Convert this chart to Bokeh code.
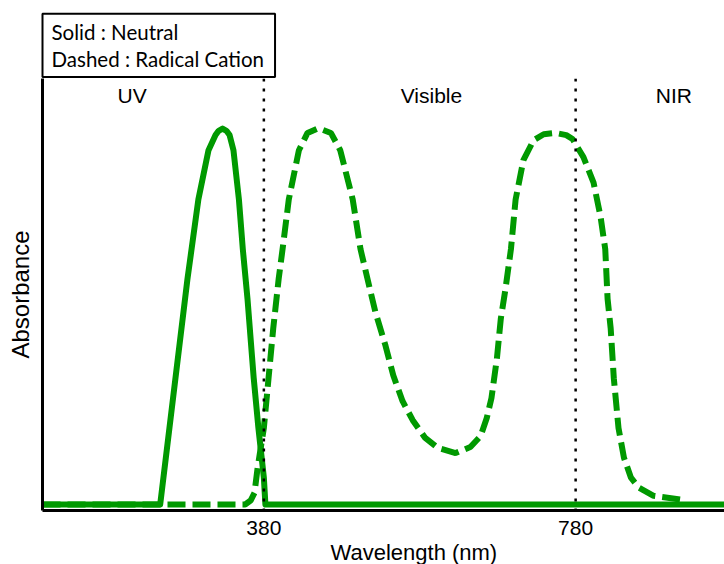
from bokeh.plotting import figure
from bokeh.models import Span, FixedTicker, ColumnDataSource, Title
from bokeh.core.properties import value
from bokeh.embed import file_html
from bokeh.resources import INLINE

# ---- data ----
# Solid : Neutral
neutral_nm = [96, 247, 282, 296, 309, 318, 322, 327, 332, 336, 341, 348, 353, 359, 367, 373, 380, 382, 971]
neutral_abs = [0.014, 0.014, 0.536, 0.720, 0.834, 0.869, 0.879, 0.884, 0.879, 0.869, 0.834, 0.720, 0.605,
               0.490, 0.306, 0.191, 0.076, 0.014, 0.014]

# Dashed : Radical Cation
radical_nm = [96, 356, 363, 368, 372, 380, 386, 392, 399, 404, 412, 425, 436, 450, 466, 478, 494, 504,
              516, 523, 536, 546, 558, 571, 587, 603, 626, 645, 658, 666, 672, 679, 684, 690, 697, 703,
              713, 726, 739, 754, 768, 776, 790, 803, 812, 818, 821, 825, 829, 835, 842, 851, 861, 880, 916]
radical_abs = [0.014, 0.014, 0.023, 0.041, 0.099, 0.191, 0.306, 0.421, 0.536, 0.605, 0.720, 0.834, 0.874,
               0.885, 0.874, 0.834, 0.720, 0.605, 0.513, 0.460, 0.382, 0.313, 0.253, 0.209, 0.168, 0.145,
               0.133, 0.147, 0.172, 0.214, 0.260, 0.352, 0.444, 0.513, 0.605, 0.720, 0.811, 0.857, 0.871,
               0.874, 0.869, 0.860, 0.818, 0.759, 0.680, 0.605, 0.490, 0.421, 0.306, 0.191, 0.122, 0.076,
               0.053, 0.034, 0.025]

boundaries_nm = [380, 780]
region_names = ["UV", "Visible", "NIR"]
region_label_nm = [211, 595, 906]

GREEN = "#009900"
SANS = "Liberation Sans"

legend_box = Title(text="Solid : Neutral\nDashed : Radical Cation", align="left", offset=0,
                   standoff=3, text_font="Lato", text_font_size="20.5px", text_font_style="normal",
                   text_line_height=1.14, text_color="black",
                   border_line_color="black", border_line_width=2, background_fill_color="white",
                   padding=dict(left=9, right=11, top=6, bottom=6))

p = figure(width=724, height=564, output_backend="svg", toolbar_location=None,
           x_range=(96, 971), y_range=(0, 1), title=legend_box,
           min_border_left=42, min_border_right=0, min_border_top=78, min_border_bottom=51)
p.outline_line_color = None
p.xgrid.visible = False
p.ygrid.visible = False
p.background_fill_color = "white"

# axes
p.xaxis.ticker = FixedTicker(ticks=boundaries_nm)
p.xaxis.major_tick_out = 0
p.xaxis.major_tick_in = 0
p.xaxis.minor_tick_out = 0
p.xaxis.minor_tick_in = 0
p.xaxis.axis_line_width = 3
p.xaxis.axis_line_color = "black"
p.xaxis.major_label_text_font = SANS
p.xaxis.major_label_text_font_size = "21px"
p.xaxis.major_label_text_color = "black"
p.xaxis.major_label_standoff = 10

p.yaxis.ticker = FixedTicker(ticks=[])
p.yaxis.major_tick_out = 0
p.yaxis.major_tick_in = 0
p.yaxis.minor_tick_out = 0
p.yaxis.minor_tick_in = 0
p.yaxis.axis_line_width = 3
p.yaxis.axis_line_color = "black"
p.yaxis.axis_label = "Absorbance"
p.yaxis.axis_label_text_font = SANS
p.yaxis.axis_label_text_font_size = "24px"
p.yaxis.axis_label_text_font_style = "normal"
p.yaxis.axis_label_text_color = "black"
p.yaxis.axis_label_standoff = 9
p.yaxis.major_label_standoff = 0

# x axis title (placed below the tick labels)
p.add_layout(Title(text="Wavelength (nm)", align="left", offset=288, standoff=0,
                   text_font=SANS, text_font_size="22px", text_font_style="normal",
                   text_color="black"), "below")

# region boundaries
for b in boundaries_nm:
    p.add_layout(Span(location=b, dimension="height", line_color="black",
                      line_width=2.5, line_dash="3 7"))

# spectra
p.line(radical_nm, radical_abs, line_color=GREEN, line_width=6, line_dash="18 7")
p.line(neutral_nm, neutral_abs, line_color=GREEN, line_width=6, line_join="round")

# region labels
src = ColumnDataSource(dict(x=region_label_nm, y=[0.961] * 3, t=region_names))
p.text(x="x", y="y", text="t", source=src, text_align="center", text_baseline="middle",
       text_font=value(SANS), text_font_size="21px", text_color="black")

open("out.html", "w").write(file_html(p, INLINE))
